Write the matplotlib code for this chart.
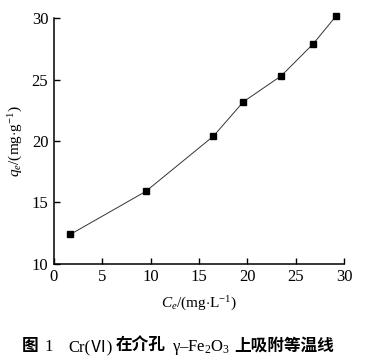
import matplotlib
matplotlib.use('Agg')
import matplotlib.pyplot as plt

plt.rcParams['font.family'] = ['Liberation Serif', 'Noto Sans CJK SC', 'DejaVu Sans']
plt.rcParams['mathtext.fontset'] = 'custom'
plt.rcParams['mathtext.rm'] = 'Liberation Serif'
plt.rcParams['mathtext.it'] = 'Liberation Serif:italic'

# equilibrium concentration vs adsorbed amount
ce = [1.7, 9.5, 16.5, 19.6, 23.5, 26.8, 29.2]
qe = [12.4, 15.9, 20.4, 23.2, 25.3, 27.9, 30.2]
xticks = [0, 5, 10, 15, 20, 25, 30]
yticks = [10, 15, 20, 25, 30]

fig = plt.figure(figsize=(3.74, 3.63), dpi=100)
ax = fig.add_axes([0.144, 0.273, 0.776, 0.677])

ax.plot(ce, qe, color='#333333', lw=0.7, marker='s', ms=4.5,
        mfc='black', mec='black', clip_on=False)

ax.set_xlim(0, 30)
ax.set_ylim(10, 30)
ax.set_xticks(xticks)
ax.set_yticks(yticks)
ax.tick_params(direction='in', length=4, width=1, labelsize=12, pad=4)
for s in ['top', 'right']:
    ax.spines[s].set_visible(False)
for s in ['left', 'bottom']:
    ax.spines[s].set_linewidth(1.1)

ax.set_xlabel(r'$C_e$/(mg$\cdot$L$^{-1}$)', fontsize=11, labelpad=7)
ax.set_ylabel(r'$q_e$/(mg$\cdot$g$^{-1}$)', fontsize=11, labelpad=5)

# caption pieces with their left x in pixels (bold CJK, regular serif latin)
pieces = [
    ('图', 'Noto Sans CJK SC', 'bold', 22),
    ('1', 'Liberation Serif', 'normal', 44),
    ('Cr(Ⅵ)', 'Liberation Serif', 'normal', 68),
    ('在介孔', 'Noto Sans CJK SC', 'bold', 116),
    ('γ–Fe$_2$O$_3$', 'Liberation Serif', 'normal', 172),
    ('上吸附等温线', 'Noto Sans CJK SC', 'bold', 234),
]
ycap = 363 - 351
for txt, fam, w, x in pieces:
    fig.text(x / 374, ycap / 363, txt, fontsize=12,
             family=[fam, 'Noto Sans CJK SC', 'DejaVu Sans'],
             weight=w, va='baseline', ha='left')

fig.savefig('out.png', dpi=100)
